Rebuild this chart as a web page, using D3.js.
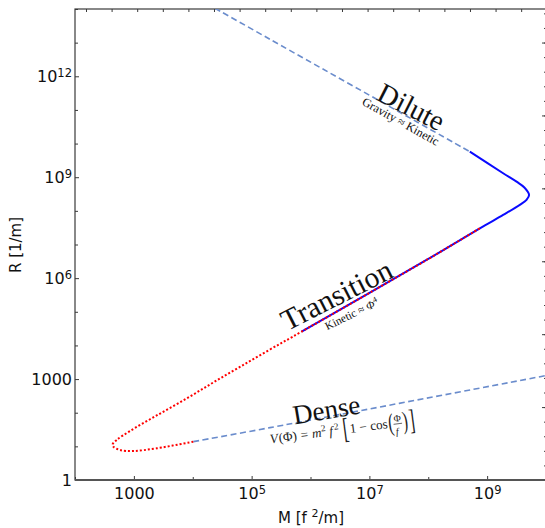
<!DOCTYPE html>
<html>
<head>
<meta charset="utf-8">
<script src="https://cdn.jsdelivr.net/npm/d3@7"></script>
<style>
  html, body { margin: 0; padding: 0; background: #fff; }
  svg { display: block; }
</style>
</head>
<body>
<svg id="chart" width="545" height="528"></svg>
<script>
// Mass M [f^2/m] against radius R [1/m] of axion-star solutions.

// Dilute asymptote (gravity balances kinetic pressure)
const diluteM = [2.38e4, 2.05e5, 5.08e8];
const diluteR = [1.05e14, 1.26e13, 5.76e9];

// Dense asymptote (full cosine potential)
const denseM = [1.02e4, 2.05e5, 1.0e10];
const denseR = [13.8, 36, 1.27e3];

// Solid branch: transition region, turning point, dilute branch
const phi4M = [7.06e5, 9.35e7, 7.52e8, 1.87e9, 3.59e9, 4.67e9, 5.16e9, 4.29e9, 3.16e9, 1.87e9, 5.08e8];
const phi4R = [2.56e4, 3.47e6, 3.03e7, 7.55e7, 1.50e8, 2.11e8, 2.97e8, 4.95e8, 7.36e8, 1.31e9, 5.76e9];

// Dotted branch: dense region, turning point, transition region
const cosM = [1.02e4, 2.44e3, 977, 581, 447, 436, 510, 859, 2.44e3, 7.87e3, 2.23e4, 6.32e4, 2.05e5, 7.06e5, 9.35e7, 7.52e8];
const cosR = [13.8, 8.75, 7.28, 7.8, 9.8, 11.5, 15.5, 28.6, 82.7, 265, 791, 2.29e3, 7.57e3, 2.56e4, 3.47e6, 3.03e7];

// Tick labels: [mantissa, exponent]
const xTickVals = [1e3, 1e5, 1e7, 1e9];
const xTickText = [["1000", ""], ["10", "5"], ["10", "7"], ["10", "9"]];
const yTickVals = [1, 1e3, 1e6, 1e9, 1e12];
const yTickText = [["1", ""], ["1000", ""], ["10", "6"], ["10", "9"], ["10", "12"]];

const W = 545, H = 528;
const plot = { left: 75, right: 546, top: 9, bottom: 480 };

const svg = d3.select("#chart");
svg.append("rect").attr("width", W).attr("height", H).attr("fill", "#fff");

const x = d3.scaleLog().domain([1e2, 1e10]).range([plot.left, plot.right]);
const y = d3.scaleLog().domain([1, 1e14]).range([plot.bottom, plot.top]);

// secondary scales for the mirrored top and right tick rows
const xTop = d3.scaleLinear().domain([-0.43, 17.97]).range([plot.left, plot.right]);
const yRight = d3.scaleLinear().domain([0, 6.46]).range([plot.bottom, plot.top]);

svg.append("defs").append("clipPath").attr("id", "plotclip")
  .append("rect")
  .attr("x", plot.left).attr("y", plot.top)
  .attr("width", plot.right - plot.left).attr("height", plot.bottom - plot.top);

const fontSans = "'DejaVu Sans', 'Bitstream Vera Sans', sans-serif";
const fontSerif = "'Liberation Serif', 'DejaVu Serif', serif";
const axisColor = "#3a3a3a";

// ---- axes ----
const decadesX = d3.range(2, 11).map(e => Math.pow(10, e)).filter(v => !xTickVals.includes(v));
const decadesY = d3.range(0, 15).map(e => Math.pow(10, e)).filter(v => !yTickVals.includes(v));

function styleAxis(g) {
  g.select(".domain").remove();
  g.selectAll(".tick line").attr("stroke", axisColor).attr("stroke-width", 1);
}

function superLabels(g, vals, texts) {
  g.selectAll(".tick text").each(function (d) {
    const i = vals.indexOf(d);
    const t = d3.select(this);
    t.text(null);
    t.append("tspan").text(texts[i][0]);
    if (texts[i][1]) {
      t.append("tspan").attr("dy", "-0.42em").attr("font-size", "11.5px").text(texts[i][1]);
    }
  });
}

// bottom
const gx = svg.append("g").attr("transform", `translate(0,${plot.bottom})`)
  .call(d3.axisBottom(x).tickValues(xTickVals).tickSize(-4).tickPadding(7.5));
styleAxis(gx);
gx.selectAll(".tick text").attr("font-family", fontSans).attr("font-size", 16).attr("fill", "#111");
superLabels(gx, xTickVals, xTickText);
svg.append("g").attr("transform", `translate(0,${plot.bottom})`)
  .call(d3.axisBottom(x).tickValues(decadesX).tickSize(-3).tickFormat(""))
  .call(styleAxis);

// left
const gy = svg.append("g").attr("transform", `translate(${plot.left},0)`)
  .call(d3.axisLeft(y).tickValues(yTickVals).tickSize(-4).tickPadding(3));
styleAxis(gy);
gy.selectAll(".tick text").attr("font-family", fontSans).attr("font-size", 16).attr("fill", "#111");
superLabels(gy, yTickVals, yTickText);
svg.append("g").attr("transform", `translate(${plot.left},0)`)
  .call(d3.axisLeft(y).tickValues(decadesY).tickSize(-3).tickFormat(""))
  .call(styleAxis);

// top
svg.append("g").attr("transform", `translate(0,${plot.top})`)
  .call(d3.axisTop(xTop).tickValues(d3.range(0, 18)).tickSize(-3).tickFormat(""))
  .call(styleAxis);

// right
svg.append("g").attr("transform", `translate(${plot.right},0)`)
  .call(d3.axisRight(yRight).tickValues(d3.range(0, 7)).tickSize(-4).tickFormat(""))
  .call(styleAxis);
svg.append("g").attr("transform", `translate(${plot.right},0)`)
  .call(d3.axisRight(yRight).tickValues(d3.range(0, 6.46, 0.2)).tickSize(-2).tickFormat(""))
  .call(styleAxis);

// spines
svg.append("rect")
  .attr("x", plot.left).attr("y", plot.top)
  .attr("width", plot.right - plot.left).attr("height", plot.bottom - plot.top)
  .attr("fill", "none").attr("stroke", axisColor).attr("stroke-width", 1.2);
svg.append("line")
  .attr("x1", plot.left).attr("x2", plot.right)
  .attr("y1", plot.bottom).attr("y2", plot.bottom)
  .attr("stroke", "#555").attr("stroke-width", 2);

// axis titles
svg.append("text")
  .attr("transform", `translate(21,245) rotate(-90)`)
  .attr("text-anchor", "middle")
  .attr("font-family", fontSans).attr("font-size", 15).attr("fill", "#111")
  .text("R [1/m]");

const xt = svg.append("text")
  .attr("x", 311).attr("y", 523)
  .attr("text-anchor", "middle")
  .attr("font-family", fontSans).attr("font-size", 15).attr("fill", "#111");
xt.append("tspan").text("M [f ");
xt.append("tspan").attr("dy", -6).attr("font-size", 11).text("2");
xt.append("tspan").attr("dy", 6).text("/m]");

// ---- curves ----
const toPts = (ms, rs) => ms.map((m, i) => [m, rs[i]]);
const line = d3.line().x(d => x(d[0])).y(d => y(d[1])).curve(d3.curveCatmullRom.alpha(0.5));
const curves = svg.append("g").attr("clip-path", "url(#plotclip)");

curves.append("path").attr("d", line(toPts(diluteM, diluteR)))
  .attr("fill", "none").attr("stroke", "#6a8ccc").attr("stroke-width", 1.6)
  .attr("stroke-dasharray", "6,3.5");
curves.append("path").attr("d", line(toPts(denseM, denseR)))
  .attr("fill", "none").attr("stroke", "#6a8ccc").attr("stroke-width", 1.6)
  .attr("stroke-dasharray", "6,3.5");
curves.append("path").attr("d", line(toPts(phi4M, phi4R)))
  .attr("fill", "none").attr("stroke", "#0a0aff").attr("stroke-width", 2);
curves.append("path").attr("d", line(toPts(cosM, cosR)))
  .attr("fill", "none").attr("stroke", "#ff0000").attr("stroke-width", 2)
  .attr("stroke-dasharray", "2,2");

// ---- annotations ----
function fitLabel(parts, m, r, angle, width, base) {
  const t = svg.append("text")
    .attr("text-anchor", "middle").attr("dominant-baseline", "central")
    .attr("font-family", fontSerif).attr("font-size", base).attr("fill", "#111");
  parts.forEach(p => {
    const s = t.append("tspan").text(p.text);
    if (p.sup) s.attr("dy", "-0.4em").attr("font-size", "0.7em");
    if (p.italic) s.attr("font-style", "italic");
  });
  const w = t.node().getComputedTextLength();
  t.attr("font-size", base * width / w);
  t.attr("transform", `translate(${x(m)},${y(r)}) rotate(${angle})`);
}

fitLabel([{ text: "Dilute" }], 5.2e7, 1.26e11, 27, 71, 24);
fitLabel([{ text: "Gravity ≈ Kinetic" }], 3.4e7, 4.5e10, 29, 86, 10);
fitLabel([{ text: "Transition" }], 2.77e6, 3.16e5, -27, 121, 24);
fitLabel([{ text: "Kinetic ≈ " }, { text: "Φ", italic: true }, { text: "4", sup: true }], 4.99e6, 8.6e4, -26, 58, 10);
fitLabel([{ text: "Dense" }], 1.87e6, 120, -9.5, 68, 24);

// potential formula, laid out piece by piece
(function () {
  const g = svg.append("g");
  const inner = g.append("g");
  const fs = 10;
  let cx = 0;
  function piece(str, opt = {}) {
    const t = inner.append("text")
      .attr("x", cx).attr("y", opt.dy || 0)
      .attr("font-family", fontSerif)
      .attr("font-size", opt.size || fs)
      .attr("fill", "#222")
      .attr("font-style", opt.italic ? "italic" : "normal")
      .attr("font-weight", opt.weight || "normal")
      .attr("xml:space", "preserve")
      .style("white-space", "pre")
      .text(str);
    if (opt.scaleY) {
      t.attr("transform", `translate(0,${opt.dy || 0}) scale(1,${opt.scaleY}) translate(0,${-(opt.dy || 0)})`);
    }
    cx += t.node().getComputedTextLength() + (opt.gap || 0);
    return t;
  }
  piece("V", { italic: true, gap: 0.5 });
  piece("(Φ)", { gap: 3 });
  piece("=", { gap: 3 });
  piece("m", { italic: true });
  piece("2", { size: 7, dy: -4, gap: 2.5 });
  piece("f", { italic: true, gap: 1 });
  piece("2", { size: 7, dy: -4, gap: 3 });
  piece("[", { size: 13, dy: 3.5, scaleY: 1.7, weight: "lighter", gap: 1 });
  piece("1", { gap: 2.5 });
  piece("−", { gap: 2.5 });
  piece("cos", { gap: 0.5 });
  piece("(", { size: 12, dy: 2.5, scaleY: 1.6, gap: 0.5 });
  // fraction Φ / f
  const fx = cx;
  const num = inner.append("text").attr("x", fx).attr("y", -4)
    .attr("font-family", fontSerif).attr("font-size", 7.5).attr("fill", "#222").text("Φ");
  const den = inner.append("text").attr("x", fx + 0.5).attr("y", 6)
    .attr("font-family", fontSerif).attr("font-size", 7.5).attr("font-style", "italic").attr("fill", "#222").text("f");
  const fw = Math.max(num.node().getComputedTextLength(), den.node().getComputedTextLength());
  inner.append("line").attr("x1", fx - 0.5).attr("x2", fx + fw + 0.5).attr("y1", -2.2).attr("y2", -2.2)
    .attr("stroke", "#222").attr("stroke-width", 0.5);
  cx += fw + 1;
  piece(")", { size: 12, dy: 2.5, scaleY: 1.6, gap: 1 });
  piece("]", { size: 13, dy: 3.5, scaleY: 1.7 });
  const total = cx;
  const scale = 146 / total;
  inner.attr("transform", `scale(${scale}) translate(${-total / 2},3)`);
  g.attr("transform", `translate(${x(3.48e6)},${y(30.6)}) rotate(-7.5)`);
})();
</script>
</body>
</html>
